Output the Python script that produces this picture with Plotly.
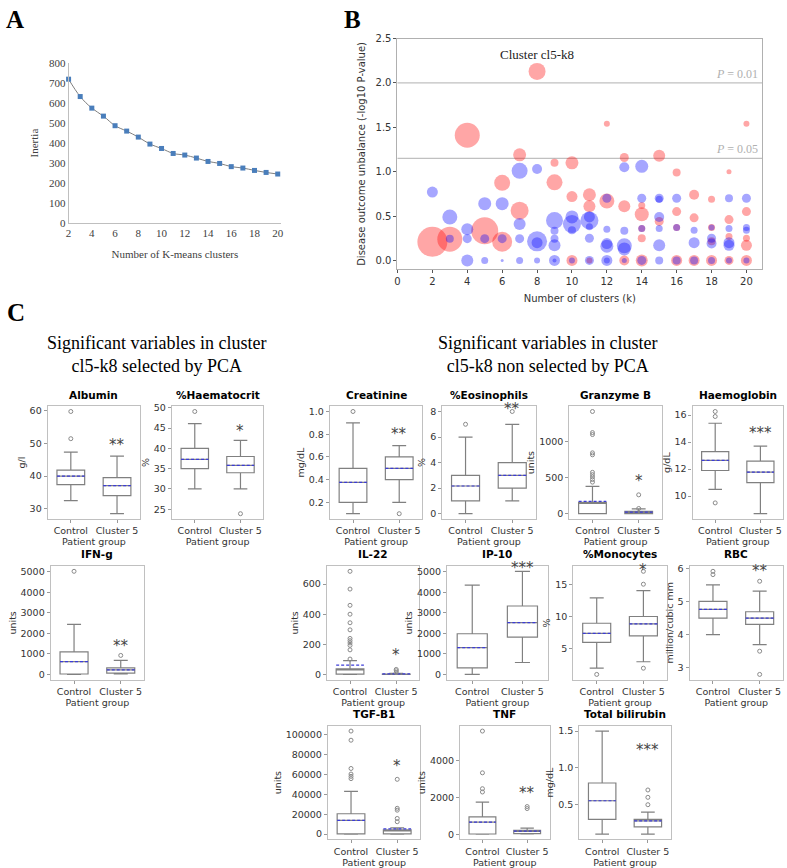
import plotly.graph_objects as go

W, H = 787, 868

# ---------------- Panel A data ----------------
k_values = list(range(2, 21))
inertia = [720, 633, 575, 535, 487, 460, 430, 395, 373, 348, 340, 325, 308, 298, 282, 275, 263, 253, 245]

# ---------------- Panel B data ----------------
red_k = [2, 3, 4, 5, 6, 6, 7, 7, 8, 9, 9, 10, 10, 10, 11, 11, 11, 12, 12, 13, 13, 13,
         14, 14, 14, 14, 14, 15, 15, 16, 16, 16, 16, 17, 17, 17, 18, 18, 18, 18,
         19, 19, 19, 19, 20, 20, 20, 20, 20]
red_y = [0.21, 0.24, 1.41, 0.335, 0.874, 0.21, 1.19, 0.56, 2.13, 1.10, 0.88, 1.10, 0.72, 0.0,
         0.74, 0.61, 0.0, 1.54, 0.67, 1.16, 0.61, 0.0,
         0.62, 0.52, 0.36, 0.25, 0.0, 1.18, 0.44, 0.99, 0.55, 0.37, 0.0, 0.74, 0.48, 0.0,
         0.69, 0.37, 0.215, 0.0, 1.0, 0.46, 0.27, 0.0, 1.54, 0.55, 0.25, 0.17, 0.0]
red_size = [30, 25, 25, 27, 16, 20, 13, 18, 17, 8, 16, 13, 11, 11, 13, 12, 6, 6, 15, 9, 12, 10,
            7, 14, 7, 8, 12, 12, 9, 8, 9, 7, 11, 10, 9, 11, 7, 7, 8, 11,
            5, 9, 7, 9, 6, 9, 7, 11, 11]

blue_k = [2, 3, 3, 4, 4, 4, 5, 5, 5, 6, 6, 6, 7, 7, 7, 7, 8, 8, 8, 8,
          9, 9, 9, 9, 9, 9, 10, 10, 10, 10, 11, 11, 11, 11, 11,
          12, 12, 12, 12, 12, 12, 13, 13, 13, 13, 13, 14, 14, 14, 14,
          15, 15, 15, 15, 15, 15, 16, 16, 16, 17, 17, 17, 18, 18, 18, 18,
          19, 19, 19, 19, 19, 20, 20, 20, 20]
blue_y = [0.77, 0.49, 0.245, 0.35, 0.245, 0.0, 0.64, 0.245, 0.0, 0.64, 0.245, 0.0,
          1.01, 0.41, 0.245, 0.0, 1.03, 0.215, 0.2, 0.0,
          0.45, 0.335, 0.245, 0.17, 0.0, 0.0, 0.49, 0.41, 0.34, 0.0, 0.49, 0.45, 0.38, 0.25, 0.0,
          0.70, 0.35, 0.19, 0.16, 0.0, 0.0, 1.05, 0.335, 0.165, 0.13, 0.0, 1.06, 0.70, 0.36, 0.0,
          0.70, 0.69, 0.49, 0.36, 0.17, 0.0, 0.70, 0.37, 0.0, 0.34, 0.2, 0.0, 0.37, 0.25, 0.19, 0.0,
          0.70, 0.36, 0.2, 0.17, 0.0, 0.70, 0.37, 0.34, 0.0]
blue_size = [11, 15, 8, 12, 9, 12, 13, 9, 7, 13, 9, 3, 16, 12, 9, 7, 10, 20, 11, 6,
             17, 8, 8, 12, 11, 4, 13, 18, 8, 6, 11, 18, 7, 9, 9,
             9, 7, 11, 13, 11, 6, 10, 8, 15, 13, 5, 13, 9, 7, 9,
             9, 7, 10, 7, 12, 8, 9, 7, 8, 7, 11, 8, 6, 9, 10, 7,
             8, 7, 11, 11, 6, 9, 7, 7, 6]

p_line_values = [2.0, 1.15]
p_line_labels = ["0.01", "0.05"]

# ---------------- Panel C data ----------------
var_names = ["Albumin", "%Haematocrit", "Creatinine", "%Eosinophils", "Granzyme B", "Haemoglobin",
             "IFN-g", "IL-22", "IP-10", "%Monocytes", "RBC", "TGF-B1", "TNF", "Total bilirubin"]
var_units = ["g/l", "%", "mg/dL", "%", "units", "g/dL", "units", "units", "units", "%",
             "million/cubic mm", "units", "units", "mg/dL"]
groups = ["Control", "Cluster 5"]

ctrl_low = [32.5, 30, 0.1, 0, 0, 10.5, 0, 0, 0, 2.0, 4.0, 0, 10, 0.1]
ctrl_q1 = [37.4, 35, 0.2, 1, 0, 11.9, 20, 2, 323, 6.0, 4.5, 330, 18, 0.3]
ctrl_q3 = [41.8, 40, 0.5, 3, 158, 13.3, 1102, 37, 1984, 8.96, 5.0, 20500, 951, 0.795]
ctrl_high = [47.3, 46.1, 0.9, 6, 378, 15.4, 2444, 91, 4355, 12.9, 5.5, 42900, 1750, 1.5]
ctrl_mean = [40.0, 37.3, 0.375, 2.17, 171, 12.65, 623, 61, 1306, 7.4, 4.76, 13900, 664, 0.554]
ctrl_outliers = [[51.4, 59.7], [49.1], [1.0], [7], [437, 473, 509, 541, 572, 815, 842, 1095, 1122, 1414],
                 [9.5, 15.9, 16.27], [5030], [102, 163, 193, 209, 224, 239, 296, 343, 400, 459, 567, 685],
                 [], [1.04], [5.81, 5.91], [55800, 58100, 60400, 66000, 94400, 103600],
                 [2296, 2475, 3336, 5600], []]

c5_low = [28.5, 30, 0.2, 1, 0, 8.7, 30, 0, 581, 3, 3.7, 0, 20, 0.1]
c5_q1 = [34.0, 34.0, 0.4, 2, 0, 11.0, 64, 0, 1823, 7, 4.31, 300, 36, 0.2]
c5_q3 = [39.5, 38.0, 0.6, 4, 32, 12.6, 320, 2, 3339, 10, 4.69, 4300, 215, 0.3]
c5_high = [46.1, 42, 0.7, 7, 68, 13.7, 687, 7, 5032, 14, 5.31, 6300, 341, 0.4]
c5_mean = [37.1, 35.8, 0.5, 3.0, 22, 11.78, 224, 3, 2532, 8.86, 4.5, 5300, 179, 0.28]
c5_outliers = [[], [23.9], [0.1], [8], [72, 261], [], [926], [13, 24, 33], [], [2, 15, 17],
               [2.8, 3.5, 5.61], [12500, 15800, 24100, 26000, 55100], [1399, 1507], [0.5, 0.6, 0.7]]

stars = ["**", "*", "**", "**", "*", "***", "**", "*", "***", "*", "**", "*", "**", "***"]
star_y = [49.6, 44.4, 0.8, 8.2, 446, 14.7, 1405, 126, 5200, 17.2, 5.92, 68000, 2260, 1.24]

y_dtick = [10, 5, 0.2, 2, 500, 2, 1000, 200, 1000, 5, 1, 20000, 2000, 0.5]
y_fmt = ["d", "d", ".1f", "d", "d", "d", "d", "d", "d", "d", "d", "d", "d", ".1f"]

# subplot frames in pixels (left, right, top, bottom)
frames = [(45, 138, 406, 520), (170, 262, 406, 520), (329, 422, 406, 520), (442, 536, 406, 520),
          (570, 663, 406, 520), (694, 785, 406, 520),
          (48, 142, 568, 683), (326, 419, 568, 683), (447, 548, 568, 683), (574, 668, 568, 683),
          (691, 785, 568, 683),
          (327, 420, 730, 845), (460, 550, 730, 845), (580, 672, 730, 845)]


def dx(l, r):
    return [l / W, r / W]


def dy(t, b):
    return [1 - b / H, 1 - t / H]


SERIF = "Liberation Serif"
SANS = "DejaVu Sans"

fig = go.Figure()
layout = dict(width=W, height=H, margin=dict(l=0, r=0, t=0, b=0),
              paper_bgcolor="white", plot_bgcolor="white", showlegend=False)
annotations = []
shapes = []

# ---------------- Panel A ----------------
fig.add_trace(go.Scatter(x=k_values, y=inertia, mode="lines", line=dict(color="#7f7f7f", width=1, shape="spline", smoothing=1.0),
                         xaxis="x", yaxis="y", hoverinfo="skip"))
fig.add_trace(go.Scatter(x=k_values, y=inertia, mode="markers", marker=dict(symbol="square", size=5, color="#4a7ebb"),
                         xaxis="x", yaxis="y", cliponaxis=False))
layout["xaxis"] = dict(domain=dx(66, 280), anchor="y", range=[2, 20.3], tickvals=list(range(2, 21, 2)),
                       showline=True, linecolor="#bfbfbf", showgrid=False, zeroline=False, ticks="",
                       tickfont=dict(family=SERIF, size=11, color="#404040"),
                       title=dict(text="Number of K-means clusters", standoff=12, font=dict(family=SERIF, size=11, color="#404040")))
layout["yaxis"] = dict(domain=dy(58, 220), anchor="x", range=[0, 800], dtick=100,
                       showline=True, linecolor="#bfbfbf", showgrid=False, zeroline=False, ticks="",
                       tickfont=dict(family=SERIF, size=11, color="#404040"),
                       title=dict(text="Inertia", standoff=8, font=dict(family=SERIF, size=11, color="#404040")))

# ---------------- Panel B ----------------
fig.add_trace(go.Scatter(x=red_k, y=red_y, mode="markers", xaxis="x2", yaxis="y2", cliponaxis=False,
                         marker=dict(size=red_size, color="rgba(255,0,0,0.5)", line=dict(width=0))))
fig.add_trace(go.Scatter(x=blue_k, y=blue_y, mode="markers", xaxis="x2", yaxis="y2", cliponaxis=False,
                         marker=dict(size=blue_size, color="rgba(0,0,255,0.5)", line=dict(width=0))))
layout["xaxis2"] = dict(domain=dx(397, 764), anchor="y2", range=[0, 20.9], dtick=2,
                        showline=True, mirror=True, linecolor="#b0b0b0", showgrid=False, zeroline=False,
                        ticks="outside", ticklen=3, tickcolor="#555",
                        tickfont=dict(family=SANS, size=10, color="#333"),
                        title=dict(text="Number of clusters (k)", standoff=8, font=dict(family=SANS, size=10, color="#333")))
layout["yaxis2"] = dict(domain=dy(33, 267), anchor="x2", range=[-0.1, 2.5], dtick=0.5, tickformat=".1f",
                        showline=True, mirror=True, linecolor="#b0b0b0", showgrid=False, zeroline=False,
                        ticks="outside", ticklen=3, tickcolor="#555",
                        tickfont=dict(family=SANS, size=10, color="#333"),
                        title=dict(text="Disease outcome unbalance (-log10 P-value)", standoff=8,
                                   font=dict(family=SANS, size=10, color="#333")))
for v, lab in zip(p_line_values, p_line_labels):
    shapes.append(dict(type="line", xref="x2 domain", yref="y2", x0=0, x1=1, y0=v, y1=v,
                       line=dict(color="#c0c0c0", width=1.2), layer="below"))
    annotations.append(dict(xref="x2 domain", yref="y2", x=0.995, y=v, xanchor="right", yanchor="bottom",
                            text="<i>P</i> = " + lab, showarrow=False,
                            font=dict(family=SERIF, size=12, color="#b0b0b0")))
annotations.append(dict(xref="x2", yref="y2", x=8, y=2.32, xanchor="center", yanchor="middle",
                        text="Cluster cl5-k8", showarrow=False,
                        font=dict(family=SERIF, size=13, color="#222")))

# ---------------- Panel letters & headings ----------------
for letter, px, py in [("A", 12, 14), ("B", 352, 14), ("C", 13, 311)]:
    annotations.append(dict(xref="paper", yref="paper", x=px / W, y=1 - py / H, xanchor="center", yanchor="middle",
                            text="<b>" + letter + "</b>",
                            showarrow=False, font=dict(family=SERIF, size=25, color="black")))
for cx, txt in [(154, "Significant variables in cluster<br>cl5-k8 selected by PCA"),
                (548, "Significant variables in cluster<br>cl5-k8 non selected by PCA")]:
    annotations.append(dict(xref="paper", yref="paper", x=cx / W, y=1 - 353 / H, xanchor="center", yanchor="middle",
                            text=txt, showarrow=False,
                            font=dict(family=SERIF, size=18, color="black")))

# ---------------- Panel C box plots ----------------
for i, name in enumerate(var_names):
    n = i + 3
    xa, ya = "x%d" % n, "y%d" % n
    stats = [
        (ctrl_low[i], ctrl_q1[i], ctrl_q3[i], ctrl_high[i], ctrl_mean[i], ctrl_outliers[i]),
        (c5_low[i], c5_q1[i], c5_q3[i], c5_high[i], c5_mean[i], c5_outliers[i]),
    ]
    all_vals = []
    for g, (lo, q1, q3, hi, mn, outs) in enumerate(stats):
        med = min(max(mn, q1), q3)
        fig.add_trace(go.Box(x=[g], q1=[q1], median=[med], q3=[q3], lowerfence=[lo], upperfence=[hi],
                             width=0.6, whiskerwidth=0.5, boxpoints=False, fillcolor="white",
                             line=dict(color="#808080", width=1.2), xaxis=xa, yaxis=ya, hoverinfo="skip"))
        fig.add_trace(go.Scatter(x=[g - 0.3, g + 0.3], y=[mn, mn], mode="lines", xaxis=xa, yaxis=ya,
                                 line=dict(color="#3c3cd8", width=1.2, dash="3px,2px"), hoverinfo="skip"))
        if outs:
            fig.add_trace(go.Scatter(x=[g] * len(outs), y=outs, mode="markers", xaxis=xa, yaxis=ya,
                                     marker=dict(symbol="circle-open", size=4, color="#8a8a8a", line=dict(width=1)),
                                     hoverinfo="skip"))
        all_vals += [lo, q1, q3, hi, mn] + list(outs)
    vmin, vmax = min(all_vals), max(all_vals)
    pad = 0.05 * (vmax - vmin)
    l, r, t, b = frames[i]
    layout["xaxis%d" % n] = dict(domain=dx(l, r), anchor=ya, range=[-0.5, 1.5], tickvals=[0, 1], ticktext=groups,
                                 showline=True, mirror=True, linecolor="#c0c0c0", linewidth=1.2,
                                 showgrid=False, zeroline=False, ticks="outside", ticklen=3, tickcolor="#999",
                                 tickfont=dict(family=SANS, size=9.5, color="#333"),
                                 title=dict(text="Patient group", standoff=1, font=dict(family=SANS, size=9.5, color="#333")))
    layout["yaxis%d" % n] = dict(domain=dy(t, b), anchor=xa, range=[vmin - pad, vmax + pad], dtick=y_dtick[i],
                                 tickformat=y_fmt[i],
                                 showline=True, mirror=True, linecolor="#c0c0c0", linewidth=1.2,
                                 showgrid=False, zeroline=False, ticks="outside", ticklen=3, tickcolor="#999",
                                 tickfont=dict(family=SANS, size=9.5, color="#333"),
                                 title=dict(text=var_units[i], standoff=2, font=dict(family=SANS, size=9.5, color="#333")))
    annotations.append(dict(xref="paper", yref="paper", x=(l + r) / 2 / W, y=1 - (t - 12) / H,
                            xanchor="center", yanchor="middle",
                            text="<b>" + name + "</b>", showarrow=False,
                            font=dict(family=SANS, size=10.5, color="black")))
    annotations.append(dict(xref=xa, yref=ya, x=1, y=star_y[i], xanchor="center", yanchor="middle",
                            text=stars[i], showarrow=False,
                            font=dict(family=SANS, size=15, color="#444")))

layout["annotations"] = annotations
layout["shapes"] = shapes
fig.update_layout(**layout)
fig.write_html("out.html")
